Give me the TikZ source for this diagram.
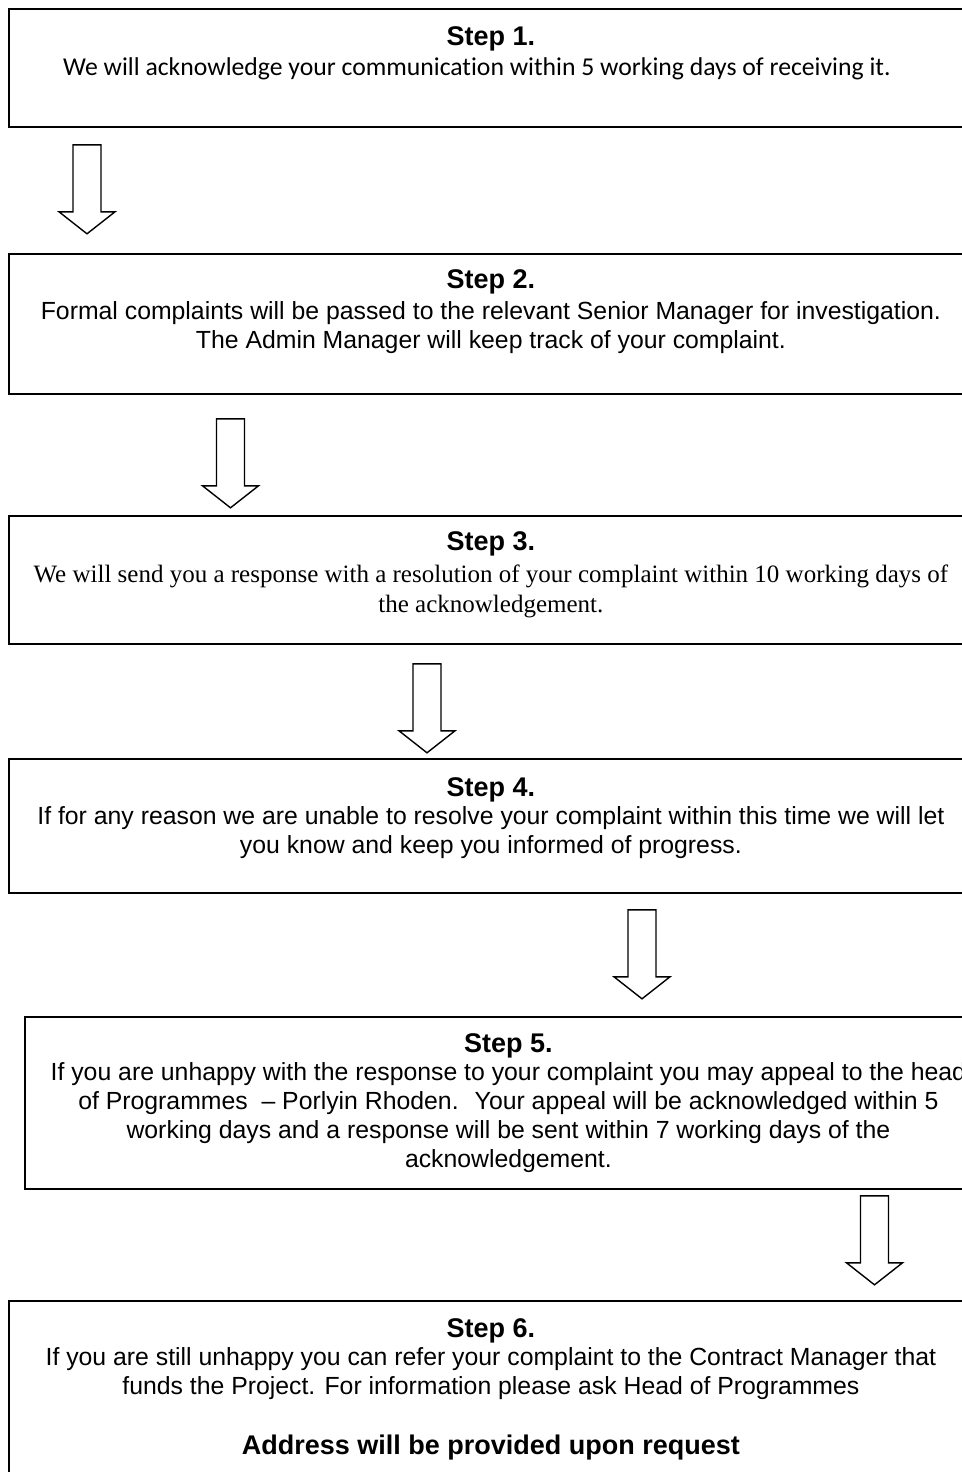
\documentclass[tikz,border=0pt]{standalone}
\usepackage{fontspec}
\setmainfont{Liberation Sans}
\newfontfamily\calibrifont[Ligatures=NoCommon]{Carlito}
\newfontfamily\timesfont{Liberation Serif}
\usetikzlibrary{positioning}

\tikzset{
  stepbox/.style={draw, line width=0.9pt, anchor=north west, minimum width=482pt, inner sep=0pt},
  headtext/.style={anchor=base, inner sep=0pt, font=\fontsize{13.5}{14.5}\selectfont\bfseries},
  bodytext/.style={anchor=base, inner sep=0pt, align=center, font=\fontsize{12.4}{14.5}\selectfont},
  blockarrow/.pic={
    \draw[line width=0.7pt] (-14,0) -- (14,0) -- (14,67) -- (28,67) -- (0,89)
      -- (-28,67) -- (-14,67) -- cycle;
  }
}

\begin{document}
\begin{tikzpicture}[x=0.5pt, y=-0.5pt]
    \clip (0,0) rectangle (962,1472);
    \fill[white] (0,0) rectangle (962,1472);
    % boxes
    \node[stepbox, minimum height=59pt] (s1) at (8,8) {};
    \node[stepbox, minimum height=70pt] (s2) at (8,253) {};
    \node[stepbox, minimum height=64pt] (s3) at (8,515) {};
    \node[stepbox, minimum height=67pt] (s4) at (8,758) {};
    \node[stepbox, minimum height=86pt, minimum width=483.5pt] (s5) at (24,1016) {};
    \node[stepbox, minimum height=100pt] (s6) at (8,1300) {};
    % step 1
    \node[headtext] (h1) at ([shift={(0,37)}]s1.north) {Step 1.};
    \node[bodytext, font=\calibrifont\fontsize{12.85}{15}\selectfont] (b1) at ([shift={(-14,67)}]s1.north)
        {We will acknowledge your communication within 5 working days of receiving it.};
    % step 2 (base = last line)
    \node[headtext] (h2) at ([shift={(0,35)}]s2.north) {Step 2.};
    \node[bodytext] (b2) at ([shift={(0,95)}]s2.north)
        {Formal complaints will be passed to the relevant Senior Manager for investigation.\\
         The Admin Manager will keep track of your complaint.};
    % step 3
    \node[headtext] (h3) at ([shift={(0,35)}]s3.north) {Step 3.};
    \node[bodytext, font=\timesfont\fontsize{12.5}{15}\selectfont] (b3) at ([shift={(0,97)}]s3.north)
        {We will send you a response with a resolution of your complaint within 10 working days of\\
         the acknowledgement.};
    % step 4
    \node[headtext] (h4) at ([shift={(0,38)}]s4.north) {Step 4.};
    \node[bodytext] (b4) at ([shift={(0,95)}]s4.north)
        {If for any reason we are unable to resolve your complaint within this time we will let\\
         you know and keep you informed of progress.};
    % step 5
    \node[headtext] (h5) at ([shift={(0,36)}]s5.north) {Step 5.};
    \node[bodytext] (b5) at ([shift={(0,151)}]s5.north)
        {If you are unhappy with the response to your complaint you may appeal to the head\\
         of Programmes~ -- Porlyin Rhoden.~ Your appeal will be acknowledged within 5\\
         working days and a response will be sent within 7 working days of the\\
         acknowledgement.};
    % step 6
    \node[headtext] (h6) at ([shift={(0,37)}]s6.north) {Step 6.};
    \node[bodytext] (b6) at ([shift={(0,94)}]s6.north)
        {If you are still unhappy you can refer your complaint to the Contract Manager that\\
         funds the Project. For information please ask Head of Programmes};
    \node[headtext] (addr) at ([shift={(0,154)}]s6.north) {Address will be provided upon request};
    % arrows
    \path ([shift={(79,17)}]s1.south west) pic {blockarrow};
    \path ([shift={(222.5,24)}]s2.south west) pic {blockarrow};
    \path ([shift={(419,19)}]s3.south west) pic {blockarrow};
    \path ([shift={(634,16)}]s4.south west) pic {blockarrow};
    \path ([shift={(850.5,6)}]s5.south west) pic {blockarrow};
\end{tikzpicture}
\end{document}
